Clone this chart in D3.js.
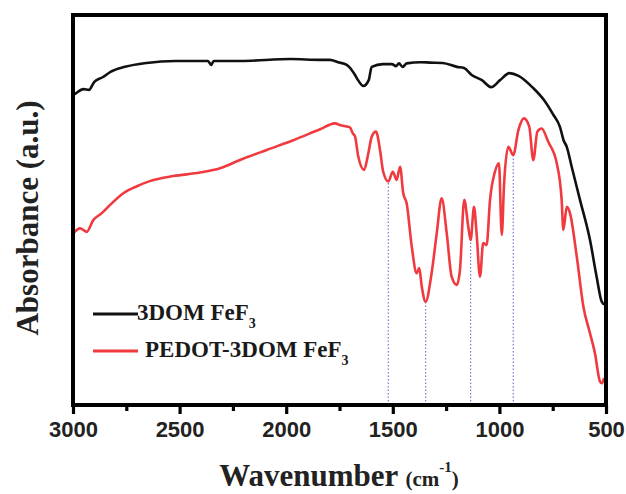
<!DOCTYPE html>
<html>
<head>
<meta charset="utf-8">
<script src="https://cdn.jsdelivr.net/npm/d3@7"></script>
<style>
  body { margin: 0; background: #fff; }
  svg { display: block; }
</style>
</head>
<body>
<div id="chart"></div>
<script>
// FTIR spectra, absorbance in arbitrary units (0-100)
var blackWn = [3000, 2993, 2951, 2925, 2901, 2859, 2824, 2756, 2655, 2519, 2367, 2352, 2340, 2214, 1978, 1841, 1795, 1757, 1716, 1705, 1677, 1663, 1638, 1613, 1599, 1546, 1504, 1485, 1471, 1454, 1435, 1368, 1326, 1266, 1199, 1166, 1130, 1082, 1039, 997, 953, 910, 842, 791, 749, 716, 699, 684, 661, 622, 575, 544, 520, 509, 502];
var blackAbs = [79.5, 79.7, 81.0, 80.8, 82.8, 84.1, 85.4, 86.7, 87.7, 88.2, 88.2, 87.2, 88.2, 88.2, 88.7, 88.5, 88.5, 87.9, 87.2, 86.7, 84.6, 83.3, 81.8, 83.3, 86.7, 87.4, 87.4, 86.9, 87.6, 86.7, 87.6, 87.9, 87.8, 87.7, 86.7, 86.4, 84.6, 83.3, 81.5, 83.3, 85.1, 84.4, 81.3, 78.2, 74.6, 71.3, 67.9, 66.2, 61.1, 52.6, 42.3, 32.9, 26.5, 25.9, 25.9];

var redWn = [2999, 2967, 2936, 2905, 2865, 2826, 2764, 2700, 2640, 2530, 2404, 2310, 2217, 2091, 1967, 1841, 1771, 1748, 1716, 1701, 1688, 1677, 1662, 1635, 1615, 1599, 1579, 1560, 1545, 1521, 1500, 1482, 1466, 1451, 1435, 1411, 1388, 1376, 1364, 1346, 1318, 1294, 1271, 1247, 1224, 1200, 1185, 1165, 1146, 1135, 1119, 1107, 1091, 1076, 1060, 1044, 1021, 1002, 989, 978, 958, 935, 911, 885, 860, 841, 822, 802, 771, 731, 708, 700, 684, 669, 637, 606, 575, 552, 528, 519, 509];
var redAbs = [44.0, 45.3, 44.4, 47.4, 49.2, 51.3, 54.3, 56.1, 57.4, 58.7, 59.6, 60.7, 62.8, 65.4, 67.9, 70.7, 72.2, 71.8, 71.4, 71.2, 69.7, 68.8, 63.7, 60.3, 64.5, 68.8, 70.1, 65.4, 59.8, 57.3, 59.8, 57.7, 61.1, 54.3, 51.7, 40.6, 33.8, 35.1, 30.3, 26.5, 33.8, 44.0, 53.0, 44.0, 32.9, 30.8, 34.6, 52.6, 45.7, 42.3, 50.8, 44.0, 32.9, 41.5, 41.0, 52.6, 59.8, 62.0, 43.6, 56.8, 66.2, 64.1, 70.5, 73.5, 71.4, 62.8, 70.1, 70.9, 67.5, 62.0, 52.6, 44.9, 50.8, 49.2, 38.0, 25.2, 18.4, 13.3, 6.0, 5.6, 6.9];

// marked peaks (dotted guide lines)
var peakWn = [1521, 1346, 1135, 935];
var peakAbs = [57.3, 26.5, 42.3, 64.1];

var majorTicks = [3000, 2500, 2000, 1500, 1000, 500];
var minorTicks = [2750, 2250, 1750, 1250, 750];

var seriesNames = ["3DOM FeF", "PEDOT-3DOM FeF"];
var seriesColors = ["#111111", "#f03a3f"];

var svgWidth = 626;
var svgHeight = 494;
var margin = {top: 15, right: 20, bottom: 89, left: 73};
var width = svgWidth - margin.left - margin.right;
var height = svgHeight - margin.top - margin.bottom;

var svg = d3.select("#chart")
    .append("svg")
    .attr("width", svgWidth)
    .attr("height", svgHeight);

var chartGroup = svg.append("g")
    .attr("transform", `translate(${margin.left},${margin.top})`);

var xScale = d3.scaleLinear().domain([3000, 500]).range([0, width]);
var yScale = d3.scaleLinear().domain([0, 100]).range([height, 0]);

// guide lines at peaks
chartGroup.selectAll(".peak")
    .data(peakWn)
    .enter()
    .append("line")
    .attr("x1", d => xScale(d))
    .attr("x2", d => xScale(d))
    .attr("y1", height)
    .attr("y2", (d, i) => yScale(peakAbs[i]))
    .attr("stroke", "#7a7ad8")
    .attr("stroke-width", 1.2)
    .attr("stroke-dasharray", "1.5,2");

var line = d3.line()
    .x(d => xScale(d[0]))
    .y(d => yScale(d[1]))
    .curve(d3.curveMonotoneX);

chartGroup.append("path")
    .datum(blackWn.map((w, i) => [w, blackAbs[i]]))
    .attr("d", line)
    .attr("fill", "none")
    .attr("stroke", seriesColors[0])
    .attr("stroke-width", 2.6)
    .attr("stroke-linejoin", "round");

chartGroup.append("path")
    .datum(redWn.map((w, i) => [w, redAbs[i]]))
    .attr("d", line)
    .attr("fill", "none")
    .attr("stroke", seriesColors[1])
    .attr("stroke-width", 2.6)
    .attr("stroke-linejoin", "round");

// axes
var bottomAxis = d3.axisBottom(xScale)
    .tickValues(majorTicks)
    .tickFormat(d3.format("d"))
    .tickSize(9)
    .tickPadding(7);

var minorAxis = d3.axisBottom(xScale)
    .tickValues(minorTicks)
    .tickFormat("")
    .tickSize(6);

var xAxis = chartGroup.append("g")
    .attr("transform", `translate(0,${height})`)
    .call(bottomAxis);

var xMinor = chartGroup.append("g")
    .attr("transform", `translate(0,${height})`)
    .call(minorAxis);

[xAxis, xMinor].forEach(function(g) {
    g.select(".domain").remove();
    g.selectAll(".tick line").attr("stroke", "#000").attr("stroke-width", 3.2);
});

xAxis.selectAll("text")
    .attr("fill", "#222")
    .style("font-family", "'Liberation Sans', Arial, sans-serif")
    .style("font-weight", "bold")
    .style("font-size", "22px");

// frame
chartGroup.append("rect")
    .attr("x", 0)
    .attr("y", 0)
    .attr("width", width)
    .attr("height", height)
    .attr("fill", "none")
    .attr("stroke", "#000")
    .attr("stroke-width", 4);

// axis titles
var serif = "'Liberation Serif', 'Times New Roman', serif";

var xTitle = svg.append("text")
    .attr("x", 339)
    .attr("y", 486)
    .attr("text-anchor", "middle")
    .style("font-family", serif)
    .style("font-weight", "bold")
    .style("fill", "#222");
xTitle.append("tspan").style("font-size", "31px").text("Wavenumber ");
xTitle.append("tspan").style("font-size", "21px").text("(cm");
xTitle.append("tspan").style("font-size", "15px").attr("dy", -14).text("-1");
xTitle.append("tspan").style("font-size", "21px").attr("dy", 14).text(")");

svg.append("text")
    .attr("transform", "translate(38,218) rotate(-90)")
    .attr("text-anchor", "middle")
    .style("font-family", serif)
    .style("font-weight", "bold")
    .style("font-size", "31px")
    .style("fill", "#222")
    .text("Absorbance (a.u.)");

// legend
var legendX = [93, 93];
var legendY = [314, 351];
var legendTextX = [137, 145];

seriesNames.forEach(function(name, i) {
    svg.append("line")
        .attr("x1", legendX[i])
        .attr("x2", legendX[i] + 45)
        .attr("y1", legendY[i])
        .attr("y2", legendY[i])
        .attr("stroke", seriesColors[i])
        .attr("stroke-width", 2.8);
    var t = svg.append("text")
        .attr("x", legendTextX[i])
        .attr("y", legendY[i] + 6)
        .style("font-family", serif)
        .style("font-weight", "bold")
        .style("font-size", "23px")
        .style("fill", "#1a1a1a");
    t.append("tspan").text(name);
    t.append("tspan").attr("dy", 8).style("font-size", "14px").text("3");
});
</script>
</body>
</html>
